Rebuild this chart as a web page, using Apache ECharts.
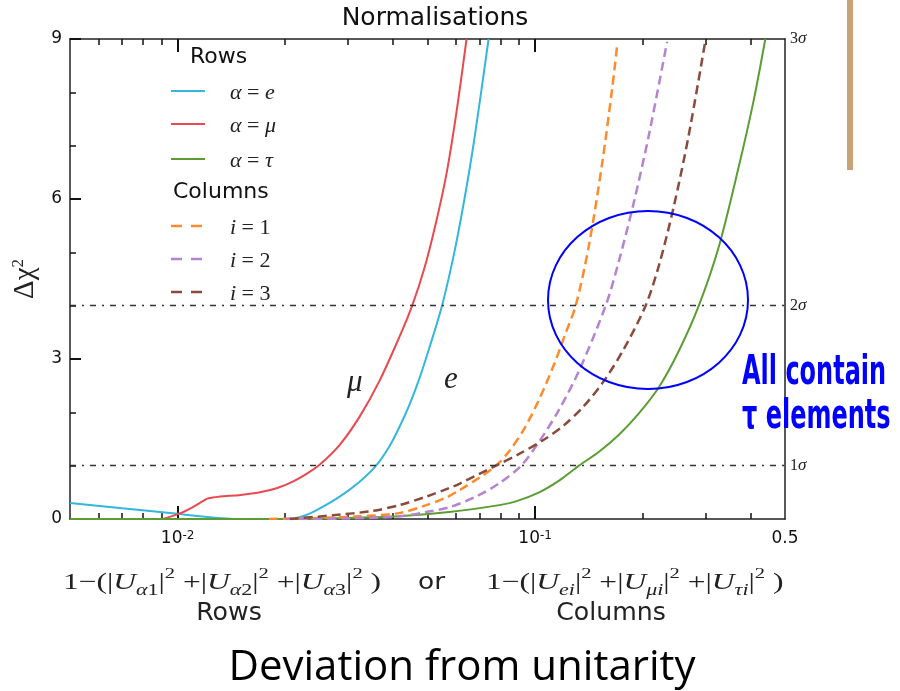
<!DOCTYPE html>
<html><head><meta charset="utf-8">
<script src="https://cdn.jsdelivr.net/npm/echarts@6/dist/echarts.min.js"></script>
<style>html,body{margin:0;padding:0;background:#fff}#c{width:900px;height:691px}</style>
</head><body><div id="c"></div>
<script>
// ---- axis ranges and ticks ----
const xMin = 0.005, xMax = 0.5;
const yMin = 0, yMax = 9, yInterval = 3;
const xLabelValues = [0.01, 0.1, 0.5];
const xLabelTexts = ['10{sup|-2}', '10{sup|-1}', '0.5'];
const xMajorTicks = [0.01, 0.1];
const xMinorTicks = [0.006, 0.007, 0.008, 0.009, 0.02, 0.03, 0.04, 0.05, 0.06, 0.07, 0.08, 0.09, 0.2, 0.3, 0.4];
const sigmaValues = [1, 4, 9];
const sigmaLabels = ['1', '2', '3'];

// ---- series data: [deviation from unitarity, delta chi^2] ----
const rowE = [[0.005,0.3],[0.007,0.2],[0.01,0.1],[0.0115,0.05],[0.013,0.02],[0.0145,0],[0.0206,0],[0.0227,0.066],[0.025,0.2],[0.0284,0.42],[0.0323,0.7],[0.0359,1.0],[0.0391,1.36],[0.0417,1.72],[0.0445,2.14],[0.0475,2.64],[0.0506,3.21],[0.0549,4.0],[0.0594,4.99],[0.0634,5.99],[0.0676,7.12],[0.0741,9.0]];
const rowMu = [[0.0091,0],[0.0101,0.1],[0.011,0.22],[0.0118,0.34],[0.0122,0.39],[0.0131,0.42],[0.015,0.45],[0.017,0.5],[0.019,0.58],[0.021,0.7],[0.023,0.85],[0.025,1.02],[0.0284,1.39],[0.0323,1.92],[0.0367,2.59],[0.0417,3.41],[0.0453,4.0],[0.049,4.7],[0.0529,5.58],[0.0565,6.47],[0.0602,7.61],[0.0643,9.0]];
const rowTau = [[0.005,0],[0.02,0],[0.03,0.02],[0.0417,0.05],[0.0575,0.13],[0.0794,0.26],[0.0884,0.33],[0.1026,0.5],[0.1167,0.72],[0.1327,1.0],[0.1509,1.26],[0.1716,1.58],[0.1951,1.98],[0.2219,2.47],[0.2523,3.15],[0.287,4.0],[0.3263,5.1],[0.371,6.6],[0.4087,7.85],[0.4405,9.0]];
const col1 = [[0.018,0],[0.025,0.02],[0.032,0.05],[0.0417,0.11],[0.0496,0.26],[0.0563,0.4],[0.0614,0.54],[0.07,0.78],[0.0777,1.0],[0.0846,1.27],[0.0932,1.69],[0.1026,2.24],[0.113,2.9],[0.1213,3.46],[0.1299,4.0],[0.1415,5.14],[0.1541,6.68],[0.1644,8.09],[0.1696,8.88]];
const col2 = [[0.02,0],[0.03,0.01],[0.0417,0.05],[0.0496,0.13],[0.0575,0.22],[0.0683,0.42],[0.0794,0.67],[0.0914,1.0],[0.1026,1.45],[0.1167,2.05],[0.1327,2.78],[0.1575,4.0],[0.1716,4.84],[0.1889,5.94],[0.2081,7.2],[0.234,8.95]];
const col3 = [[0.0206,0],[0.0272,0.07],[0.035,0.15],[0.0417,0.26],[0.0496,0.42],[0.0575,0.58],[0.0614,0.66],[0.0777,1.0],[0.0902,1.22],[0.106,1.49],[0.1205,1.76],[0.137,2.12],[0.1558,2.59],[0.1772,3.19],[0.2037,4.0],[0.2219,4.75],[0.2443,5.86],[0.269,7.2],[0.2996,8.98]];
const sigmaLines = [4, 1];

const names = ['α=e', 'α=μ', 'α=τ', 'i=1', 'i=2', 'i=3'];
const colors = ['#35b6dc', '#ea4a4f', '#5b9d32', '#fd8b2e', '#b583cf', '#8a4a3c'];
const datasets = [rowE, rowMu, rowTau, col1, col2, col3];
const dashed = [false, false, false, true, true, true];

const chart = echarts.init(document.getElementById('c'), null, {renderer: 'canvas'});
const AX = '#222';
const SERIF = '"Liberation Serif", "DejaVu Serif", serif';
const SANS = '"DejaVu Sans", sans-serif';

function logX(position, ticks, len, width, showLine, showLabel) {
  return {
    type: 'log', logBase: 10, min: xMin, max: xMax, position: position, gridIndex: 0,
    axisLine: {show: showLine, onZero: false, lineStyle: {color: AX, width: 1.5}},
    axisTick: {show: true, inside: true, length: len, customValues: ticks, lineStyle: {color: '#111', width: width}},
    axisLabel: showLabel ? {
      show: true, customValues: xLabelValues, margin: 11, color: '#111', fontFamily: SANS, fontSize: 17,
      formatter: function (v) {
        for (let i = 0; i < xLabelValues.length; i++) if (Math.abs(v - xLabelValues[i]) / xLabelValues[i] < 1e-6) return xLabelTexts[i];
        return '';
      },
      rich: {sup: {fontSize: 12, fontFamily: SANS, color: '#111', verticalAlign: 'top', lineHeight: 12, padding: [0, 0, 10, 0]}}
    } : {show: false},
    splitLine: {show: false}, minorTick: {show: false}, minorSplitLine: {show: false}
  };
}

const series = datasets.map((d, i) => ({
  name: names[i], type: 'line', data: d, showSymbol: false, symbol: 'none',
  smooth: 0.3, clip: true, xAxisIndex: 0, yAxisIndex: 0,
  lineStyle: {color: colors[i], width: dashed[i] ? 2.5 : 2, type: dashed[i] ? [9, 5] : 'solid'},
  itemStyle: {color: colors[i]}, z: 3
}));
series[0].markLine = {
  silent: true, symbol: ['none', 'none'], label: {show: false}, animation: false,
  lineStyle: {color: '#333', width: 1.4, type: [6, 6, 2, 6]},
  data: sigmaLines.map(v => ({yAxis: v}))
};

// legend (graphic)
const legend = [];
legend.push({type: 'text', x: 190, y: 57, style: {text: 'Rows', fill: '#111', fontFamily: SANS, fontSize: 22, verticalAlign: 'middle'}});
legend.push({type: 'text', x: 173, y: 192, style: {text: 'Columns', fill: '#111', fontFamily: SANS, fontSize: 22, verticalAlign: 'middle'}});
const legY = [91, 124, 159, 226, 259, 292];
const legText = ['{i|α}{n| = }{i|e}', '{i|α}{n| = }{i|μ}', '{i|α}{n| = }{i|τ}', '{i|i}{n| = 1}', '{i|i}{n| = 2}', '{i|i}{n| = 3}'];
const mathRich = {
  i: {fontFamily: SERIF, fontStyle: 'italic', fontSize: 22, fill: '#222'},
  n: {fontFamily: SERIF, fontSize: 22, fill: '#222'}
};
for (let k = 0; k < 6; k++) {
  legend.push({type: 'line', shape: {x1: 171, y1: legY[k], x2: dashed[k] ? 203 : 205, y2: legY[k]},
    style: {stroke: colors[k], lineWidth: dashed[k] ? 2.5 : 2.2, lineDash: dashed[k] ? [11, 9] : null}});
  legend.push({type: 'text', x: 230, y: legY[k] + 2, style: {text: legText[k], rich: mathRich, verticalAlign: 'middle'}});
}

// formula rich
const fr = {
  n: {fontFamily: SERIF, fontSize: 23, fill: '#222', lineHeight: 32, verticalAlign: 'middle'},
  i: {fontFamily: SERIF, fontStyle: 'italic', fontSize: 23, fill: '#222', lineHeight: 32, verticalAlign: 'middle'},
  s: {fontFamily: SERIF, fontStyle: 'italic', fontSize: 16, fill: '#222', lineHeight: 16, verticalAlign: 'bottom'},
  sn: {fontFamily: SERIF, fontSize: 16, fill: '#222', lineHeight: 16, verticalAlign: 'bottom'},
  p: {fontFamily: SERIF, fontSize: 15, fill: '#222', lineHeight: 15, verticalAlign: 'top'}
};
function grp(sub, subNum) { return '{n||}{i|U}{s|' + sub + '}' + (subNum ? '{sn|' + subNum + '}' : '') + '{n||}{p|2}'; }
const f1 = '{n|1−(}' + grp('α', '1') + '{n| +}' + grp('α', '2') + '{n| +}' + grp('α', '3') + '{n| )}';
const f2 = '{n|1−(}' + grp('ei', '') + '{n| +}' + grp('μi', '') + '{n| +}' + grp('τi', '') + '{n| )}';

const NARROW = '"DejaVu Sans", sans-serif';
const graphics = legend.concat([
  {type: 'text', x: 347, y: 383, style: {text: 'μ', fontFamily: SERIF, fontStyle: 'italic', fontSize: 31, fill: '#222', verticalAlign: 'middle'}},
  {type: 'text', x: 444, y: 380, style: {text: 'e', fontFamily: SERIF, fontStyle: 'italic', fontSize: 31, fill: '#222', verticalAlign: 'middle'}},
  {type: 'ellipse', shape: {cx: 648, cy: 300, rx: 100, ry: 89}, style: {fill: null, stroke: '#0000ff', lineWidth: 2}, z: 10},
  {type: 'rect', shape: {x: 847, y: 0, width: 6, height: 170}, style: {fill: '#c8a274'}},
  {type: 'text', x: 742, y: 374, scaleX: 0.6, style: {text: 'All contain', fill: '#0000ff', fontFamily: NARROW, fontWeight: 'bold', fontSize: 40, verticalAlign: 'middle'}, z: 10},
  {type: 'text', x: 742, y: 418, scaleX: 0.6, style: {text: 'τ elements', fill: '#0000ff', fontFamily: NARROW, fontWeight: 'bold', fontSize: 40, verticalAlign: 'middle'}, z: 10},
  {type: 'text', x: 63, y: 583, scaleX: 1.37, style: {text: f1, rich: fr, verticalAlign: 'middle'}},
  {type: 'text', x: 418, y: 583, scaleX: 1.15, style: {text: 'or', fill: '#222', fontFamily: SANS, fontSize: 23, verticalAlign: 'middle'}},
  {type: 'text', x: 486, y: 583, scaleX: 1.37, style: {text: f2, rich: fr, verticalAlign: 'middle'}},
  {type: 'text', x: 229, y: 614, scaleX: 1.05, style: {text: 'Rows', fill: '#222', fontFamily: SANS, fontSize: 24, align: 'center', verticalAlign: 'middle'}},
  {type: 'text', x: 611, y: 614, scaleX: 1.05, style: {text: 'Columns', fill: '#222', fontFamily: SANS, fontSize: 24, align: 'center', verticalAlign: 'middle'}},
  {type: 'text', x: 462, y: 668, style: {text: 'Deviation from unitarity', fill: '#000', fontFamily: '"Open Sans", sans-serif', fontSize: 42, align: 'center', verticalAlign: 'middle'}}
]);

chart.setOption({
  animation: false,
  backgroundColor: '#fff',
  title: {text: 'Normalisations', left: 430, top: 1, textAlign: 'center',
    textStyle: {fontFamily: SANS, fontSize: 25, fontWeight: 'normal', color: '#111'}},
  grid: {left: 70, right: 115, top: 39, bottom: 172, containLabel: false},
  xAxis: [
    logX('bottom', xMajorTicks, 13, 2, true, true),
    logX('bottom', xMinorTicks, 6, 1.5, false, false),
    logX('top', xMajorTicks, 13, 2, true, false),
    logX('top', xMinorTicks, 6, 1.5, false, false)
  ],
  yAxis: [
    {type: 'value', min: yMin, max: yMax, interval: yInterval, position: 'left',
      axisLine: {show: true, onZero: false, lineStyle: {color: AX, width: 1.5}},
      axisTick: {show: true, inside: true, length: 11, lineStyle: {color: '#111', width: 2}},
      minorTick: {show: true, splitNumber: 3, length: 6, lineStyle: {color: '#111', width: 1.5}},
      axisLabel: {color: '#111', fontFamily: SANS, fontSize: 17, margin: 8},
      splitLine: {show: false},
      name: 'Δχ{sup|2}', nameLocation: 'middle', nameRotate: 90, nameGap: 28,
      nameTextStyle: {fontFamily: SERIF, fontSize: 29, color: '#222',
        rich: {sup: {fontFamily: SERIF, fontSize: 17, color: '#222', verticalAlign: 'top', padding: [0, 0, 14, 0]}}}
    },
    {type: 'value', min: yMin, max: yMax, position: 'right',
      axisLine: {show: true, onZero: false, lineStyle: {color: AX, width: 1.5}},
      axisTick: {show: false},
      axisLabel: {customValues: sigmaValues, margin: 5, color: '#222', fontFamily: SERIF, fontSize: 16,
        formatter: function (v) { const i = sigmaValues.indexOf(v); return i < 0 ? '' : sigmaLabels[i] + '{s|σ}'; },
        rich: {s: {fontFamily: SERIF, fontStyle: 'italic', fontSize: 17, color: '#222'}}},
      splitLine: {show: false}
    }
  ],
  series: series,
  graphic: {elements: graphics}
});
</script></body></html>
